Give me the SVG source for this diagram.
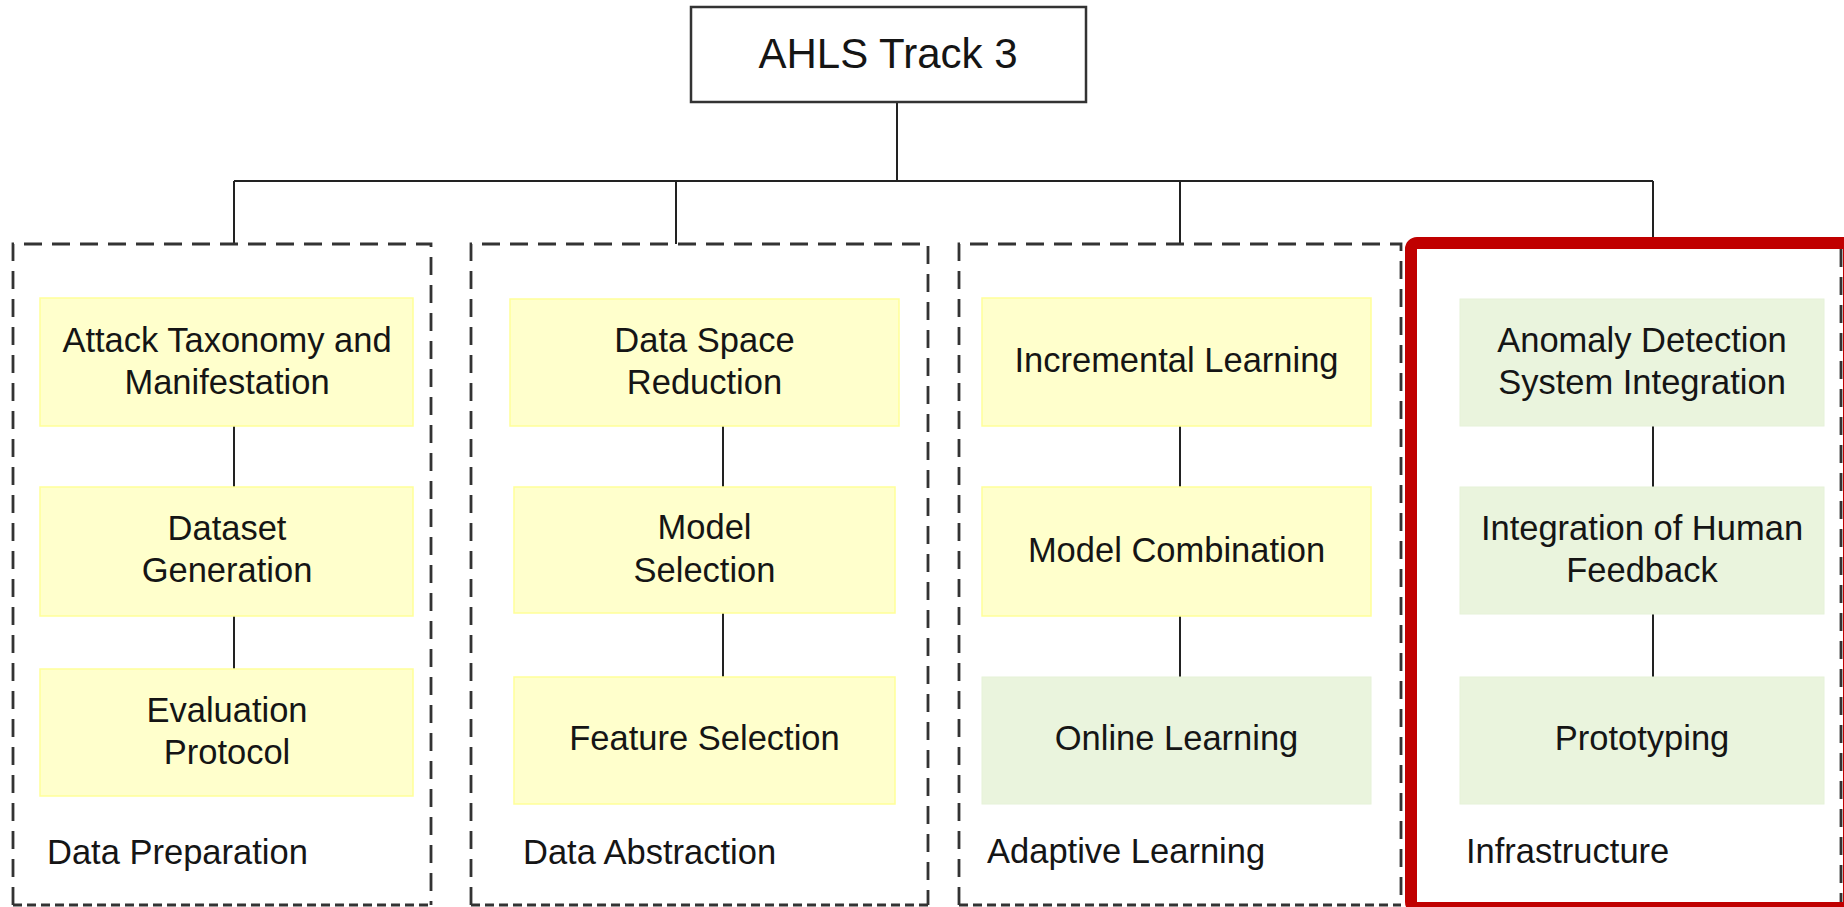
<svg xmlns="http://www.w3.org/2000/svg" width="1844" height="907" viewBox="0 0 1844 907">
<style>
text{font-family:"Liberation Sans",Arial,Helvetica,sans-serif;fill:#151515;font-size:34.5px}
.c{text-anchor:middle}
.y{fill:#FFFFCC;stroke:#FFFF99;stroke-width:1.5}
.g{fill:#EAF4DD;stroke:#E6F2D8;stroke-width:1}
.dt{fill:none;stroke:#333;stroke-width:2.8;stroke-dasharray:18 10}
.db{fill:none;stroke:#333;stroke-width:2.8;stroke-dasharray:9 5}
.ln{fill:none;stroke:#222;stroke-width:2}
</style>
<rect width="1844" height="907" fill="#fff"/>
<g id="connectors">
<path class="ln" d="M897 102V181M234 181H1653M234 181V244M676 181V244M1180 181V244M1653 181V244"/>
<path class="ln" d="M234 426V487M234 616V669"/>
<path class="ln" d="M723 426V487M723 613V677"/>
<path class="ln" d="M1180 426V487M1180 616V677"/>
<path class="ln" d="M1653 426V487M1653 614V677"/>
</g>
<g id="root">
<rect x="691" y="7" width="395" height="95" fill="#fff" stroke="#333" stroke-width="2.5"/>
<text class="c" x="888" y="68" style="font-size:42px">AHLS Track 3</text>
</g>
<g id="group-data-preparation">
<path class="dt" d="M13 905V244H431V905"/>
<path class="db" d="M13 905H431"/>
<text x="47" y="864">Data Preparation</text>
</g>
<g id="node-attack-taxonomy">
<rect class="y" x="40" y="298" width="373" height="128"/>
<text class="c" x="227" y="352">Attack Taxonomy and</text>
<text class="c" x="227" y="394">Manifestation</text>
</g>
<g id="node-dataset-generation">
<rect class="y" x="40" y="487" width="373" height="129"/>
<text class="c" x="227" y="540">Dataset</text>
<text class="c" x="227" y="582">Generation</text>
</g>
<g id="node-evaluation-protocol">
<rect class="y" x="40" y="669" width="373" height="127"/>
<text class="c" x="227" y="722">Evaluation</text>
<text class="c" x="227" y="764">Protocol</text>
</g>
<g id="group-data-abstraction">
<path class="dt" d="M471 905V244H928V905"/>
<path class="db" d="M471 905H928"/>
<text x="523" y="864">Data Abstraction</text>
</g>
<g id="node-data-space-reduction">
<rect class="y" x="510" y="299" width="389" height="127"/>
<text class="c" x="704.5" y="352">Data Space</text>
<text class="c" x="704.5" y="394">Reduction</text>
</g>
<g id="node-model-selection">
<rect class="y" x="514" y="487" width="381" height="126"/>
<text class="c" x="704.5" y="539">Model</text>
<text class="c" x="704.5" y="582">Selection</text>
</g>
<g id="node-feature-selection">
<rect class="y" x="514" y="677" width="381" height="127"/>
<text class="c" x="704.5" y="750">Feature Selection</text>
</g>
<g id="group-adaptive-learning">
<path class="dt" d="M959 905V244H1401V905"/>
<path class="db" d="M959 905H1401"/>
<text x="987" y="863">Adaptive Learning</text>
</g>
<g id="node-incremental-learning">
<rect class="y" x="982" y="298" width="389" height="128"/>
<text class="c" x="1176.5" y="372">Incremental Learning</text>
</g>
<g id="node-model-combination">
<rect class="y" x="982" y="487" width="389" height="129"/>
<text class="c" x="1176.5" y="562">Model Combination</text>
</g>
<g id="node-online-learning">
<rect class="g" x="982" y="677" width="389" height="127"/>
<text class="c" x="1176.5" y="750">Online Learning</text>
</g>
<g id="group-infrastructure">
<path class="dt" d="M1415 905V244H1841V905"/>
<path class="db" d="M1415 905H1841"/>
<rect x="1411" y="243" width="438" height="665" rx="6" fill="none" stroke="#C00000" stroke-width="12"/>
<text x="1466" y="863">Infrastructure</text>
</g>
<g id="node-anomaly-detection">
<rect class="g" x="1460" y="299" width="364" height="127"/>
<text class="c" x="1642" y="352">Anomaly Detection</text>
<text class="c" x="1642" y="394">System Integration</text>
</g>
<g id="node-human-feedback">
<rect class="g" x="1460" y="487" width="364" height="127"/>
<text class="c" x="1642" y="540">Integration of Human</text>
<text class="c" x="1642" y="582">Feedback</text>
</g>
<g id="node-prototyping">
<rect class="g" x="1460" y="677" width="364" height="127"/>
<text class="c" x="1642" y="750">Prototyping</text>
</g>
</svg>
